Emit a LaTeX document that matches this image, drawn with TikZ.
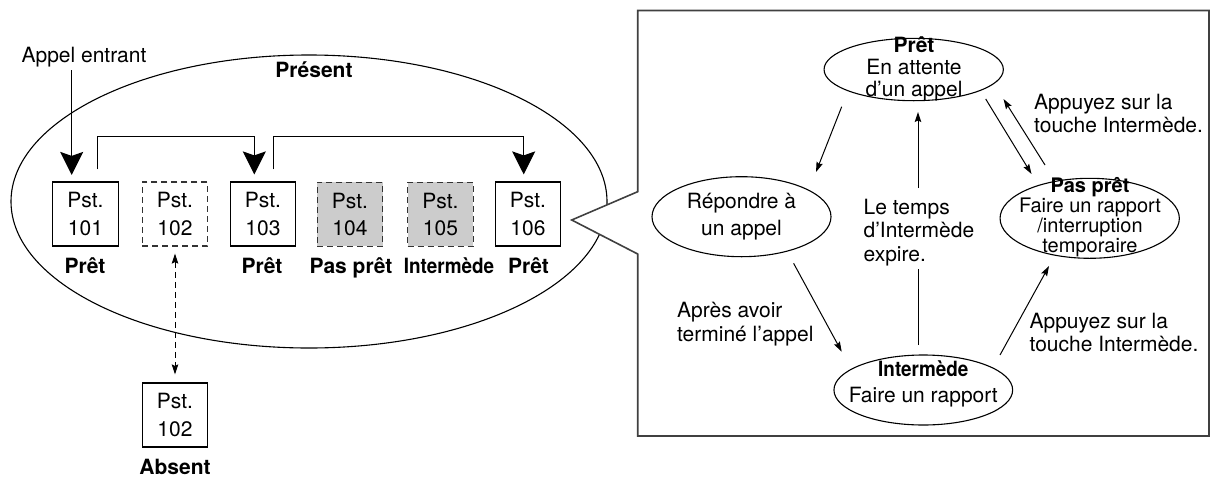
\documentclass[tikz,border=0pt]{standalone}
\usepackage{fontspec}
\setmainfont{TeX Gyre Heros}
\usetikzlibrary{arrows.meta,shapes.geometric}

\tikzset{
  txt/.style={inner sep=0pt, font=\fontsize{21}{24}\selectfont},
  btxt/.style={inner sep=0pt, font=\fontsize{21}{24}\selectfont\bfseries},
  stbox/.style={draw, line width=1.2pt, minimum width=65.6pt, minimum height=64pt,
    inner sep=0pt, align=center, font=\fontsize{21}{27.5}\selectfont},
  offbox/.style={stbox, draw=black!80, dash pattern=on 6pt off 4pt},
  greybox/.style={offbox, fill=black!20},
  stateell/.style={draw, ellipse, line width=1.1pt, inner sep=0pt},
  bigtip/.style={line width=1.2pt, -{Stealth[length=23pt,width=23pt,inset=4pt]}},
  smalltip/.style={line width=1pt, -{Stealth[length=10pt,width=6.5pt,inset=1.5pt]}},
  plainline/.style={line width=1pt},
  panel/.style={draw=black!75, line width=1.6pt, fill=white, line join=miter},
}

\begin{document}
\begin{tikzpicture}[x=1pt,y=-1pt]
\useasboundingbox (0,0) rectangle (1212,477);

% ---------- group of extensions ----------
\node[draw, ellipse, line width=1.1pt, inner sep=0pt,
      minimum width=596pt, minimum height=293pt] (grp) at (309,201.5) {};
\node[btxt, anchor=base] (present) at (314,77.5) {Présent};
\node[txt, anchor=base] (appel) at (84,62.5) {Appel entrant};

\node[stbox]   (b101) at (85.5,214)  {Pst.\\101};
\node[offbox]  (b102) at (175,214)   {Pst.\\102};
\node[stbox]   (b103) at (263,214)   {Pst.\\103};
\node[greybox] (b104) at (350,214.3) {Pst.\\104};
\node[greybox] (b105) at (440.5,214.3) {Pst.\\105};
\node[stbox]   (b106) at (528,214)   {Pst.\\106};

\node[btxt, anchor=base] (l101) at (85,273.5)  {Prêt};
\node[btxt, anchor=base] (l103) at (262,273.5) {Prêt};
\node[btxt, anchor=base] (l104) at (351,273.5) {Pas prêt};
\node[btxt, anchor=base] (l105) at (449,273.5) {\scalebox{0.9}[1]{Intermède}};
\node[btxt, anchor=base] (l106) at (528.5,273.5) {Prêt};

\node[stbox] (b102out) at (175,415) {Pst.\\102};
\node[btxt, anchor=base] (labs) at (175,474) {Absent};

% incoming call and hunting order
\coordinate (in101) at ([shift={(-13.8,-6.5)}]b101.north);
\draw[bigtip, shorten <=3pt] (appel.south -| in101) -- (in101);
\draw[bigtip] ([shift={(12.2,-12)}]b101.north) -- ++(0,-32.7)
      -| ([shift={(-8.7,-7)}]b103.north);
\draw[bigtip] ([shift={(10.3,-12)}]b103.north) -- ++(0,-32.7)
      -| ([shift={(-4.3,-7)}]b106.north);

% absent extension
\draw[line width=1pt, dash pattern=on 6pt off 4pt,
      {Stealth[length=10pt,width=6.5pt,inset=1.5pt]}-{Stealth[length=10pt,width=6.5pt,inset=1.5pt]},
      shorten <=7pt, shorten >=8pt] (b102.south) -- (b102out.north);

% ---------- state panel ----------
\coordinate (tip) at ([shift={(10.3,6)}]b106.east);
\draw[panel] (637.7,191.7) -- (tip) -- (637.7,254) -- (637.7,436)
      -- (1209,436) -- (1209,10.5) -- (637.7,10.5) -- cycle;

\node[stateell, minimum width=179.3pt, minimum height=62.4pt] (pret)  at (913.7,69.5) {};
\node[stateell, minimum width=179pt,   minimum height=80pt]   (rep)   at (741.5,216.7) {};
\node[stateell, minimum width=179.3pt, minimum height=80pt]   (pas)   at (1089.7,218.3) {};
\node[stateell, minimum width=178.7pt, minimum height=70pt]   (inter) at (923.3,390) {};

\node[inner sep=0pt, align=center, font=\fontsize{21}{22}\selectfont] (tpret) at (914,69)
  {\textbf{Prêt}\\En attente\\d’un appel};
\node[inner sep=0pt, align=center, font=\fontsize{21}{27}\selectfont] (trep) at (741.5,217)
  {Répondre à\\un appel};
\node[inner sep=0pt, align=center, font=\fontsize{20}{15.3}\selectfont] (tpas) at (1090,217)
  {\textbf{Pas prêt}\\Faire un rapport\\/interruption\\temporaire};
\node[inner sep=0pt, align=center, font=\fontsize{21}{26}\selectfont] (tinter) at (923.3,384)
  {\textbf{\scalebox{0.9}[1]{Intermède}}\\Faire un rapport};

\node[inner sep=0pt, align=left, anchor=west, font=\fontsize{21}{23.5}\selectfont]
  (expire) at (863.4,232.3) {Le temps\\d’Intermède\\expire.};
\node[inner sep=0pt, align=left, anchor=west, font=\fontsize{21}{23}\selectfont]
  (apptop) at (1034,113.7) {Appuyez sur la\\touche Intermède.};
\node[inner sep=0pt, align=left, anchor=west, font=\fontsize{21}{23}\selectfont]
  (appbot) at (1029.4,332.7) {Appuyez sur la\\touche Intermède.};
\node[inner sep=0pt, align=left, anchor=west, font=\fontsize{21}{24}\selectfont]
  (apres) at (677,324) {Après avoir\\terminé l’appel};

% transitions
\draw[smalltip] ([shift={(-72,37.2)}]pret.center) -- ([shift={(74.5,-44.7)}]rep.center);
\draw[smalltip] ([shift={(52.1,46.6)}]rep.center) -- ([shift={(-81.6,-38.3)}]inter.center);
\draw[smalltip] ([shift={(76.7,-35)}]inter.center) -- ([shift={(-40.7,47.7)}]pas.center);
\draw[smalltip] ([shift={(72,29.5)}]pret.center) -- ([shift={(-58.2,-44.3)}]pas.center);
\draw[smalltip] ([shift={(-44.7,-53.3)}]pas.center) -- ([shift={(89.8,29.5)}]pret.center);
\draw[plainline] ([shift={(-5.3,-45)}]inter.center) -- ([shift={(-5.3,-121)}]inter.center);
\draw[smalltip] ([shift={(4.3,118.5)}]pret.center) -- ([shift={(4.3,42.5)}]pret.center);
\end{tikzpicture}
\end{document}
